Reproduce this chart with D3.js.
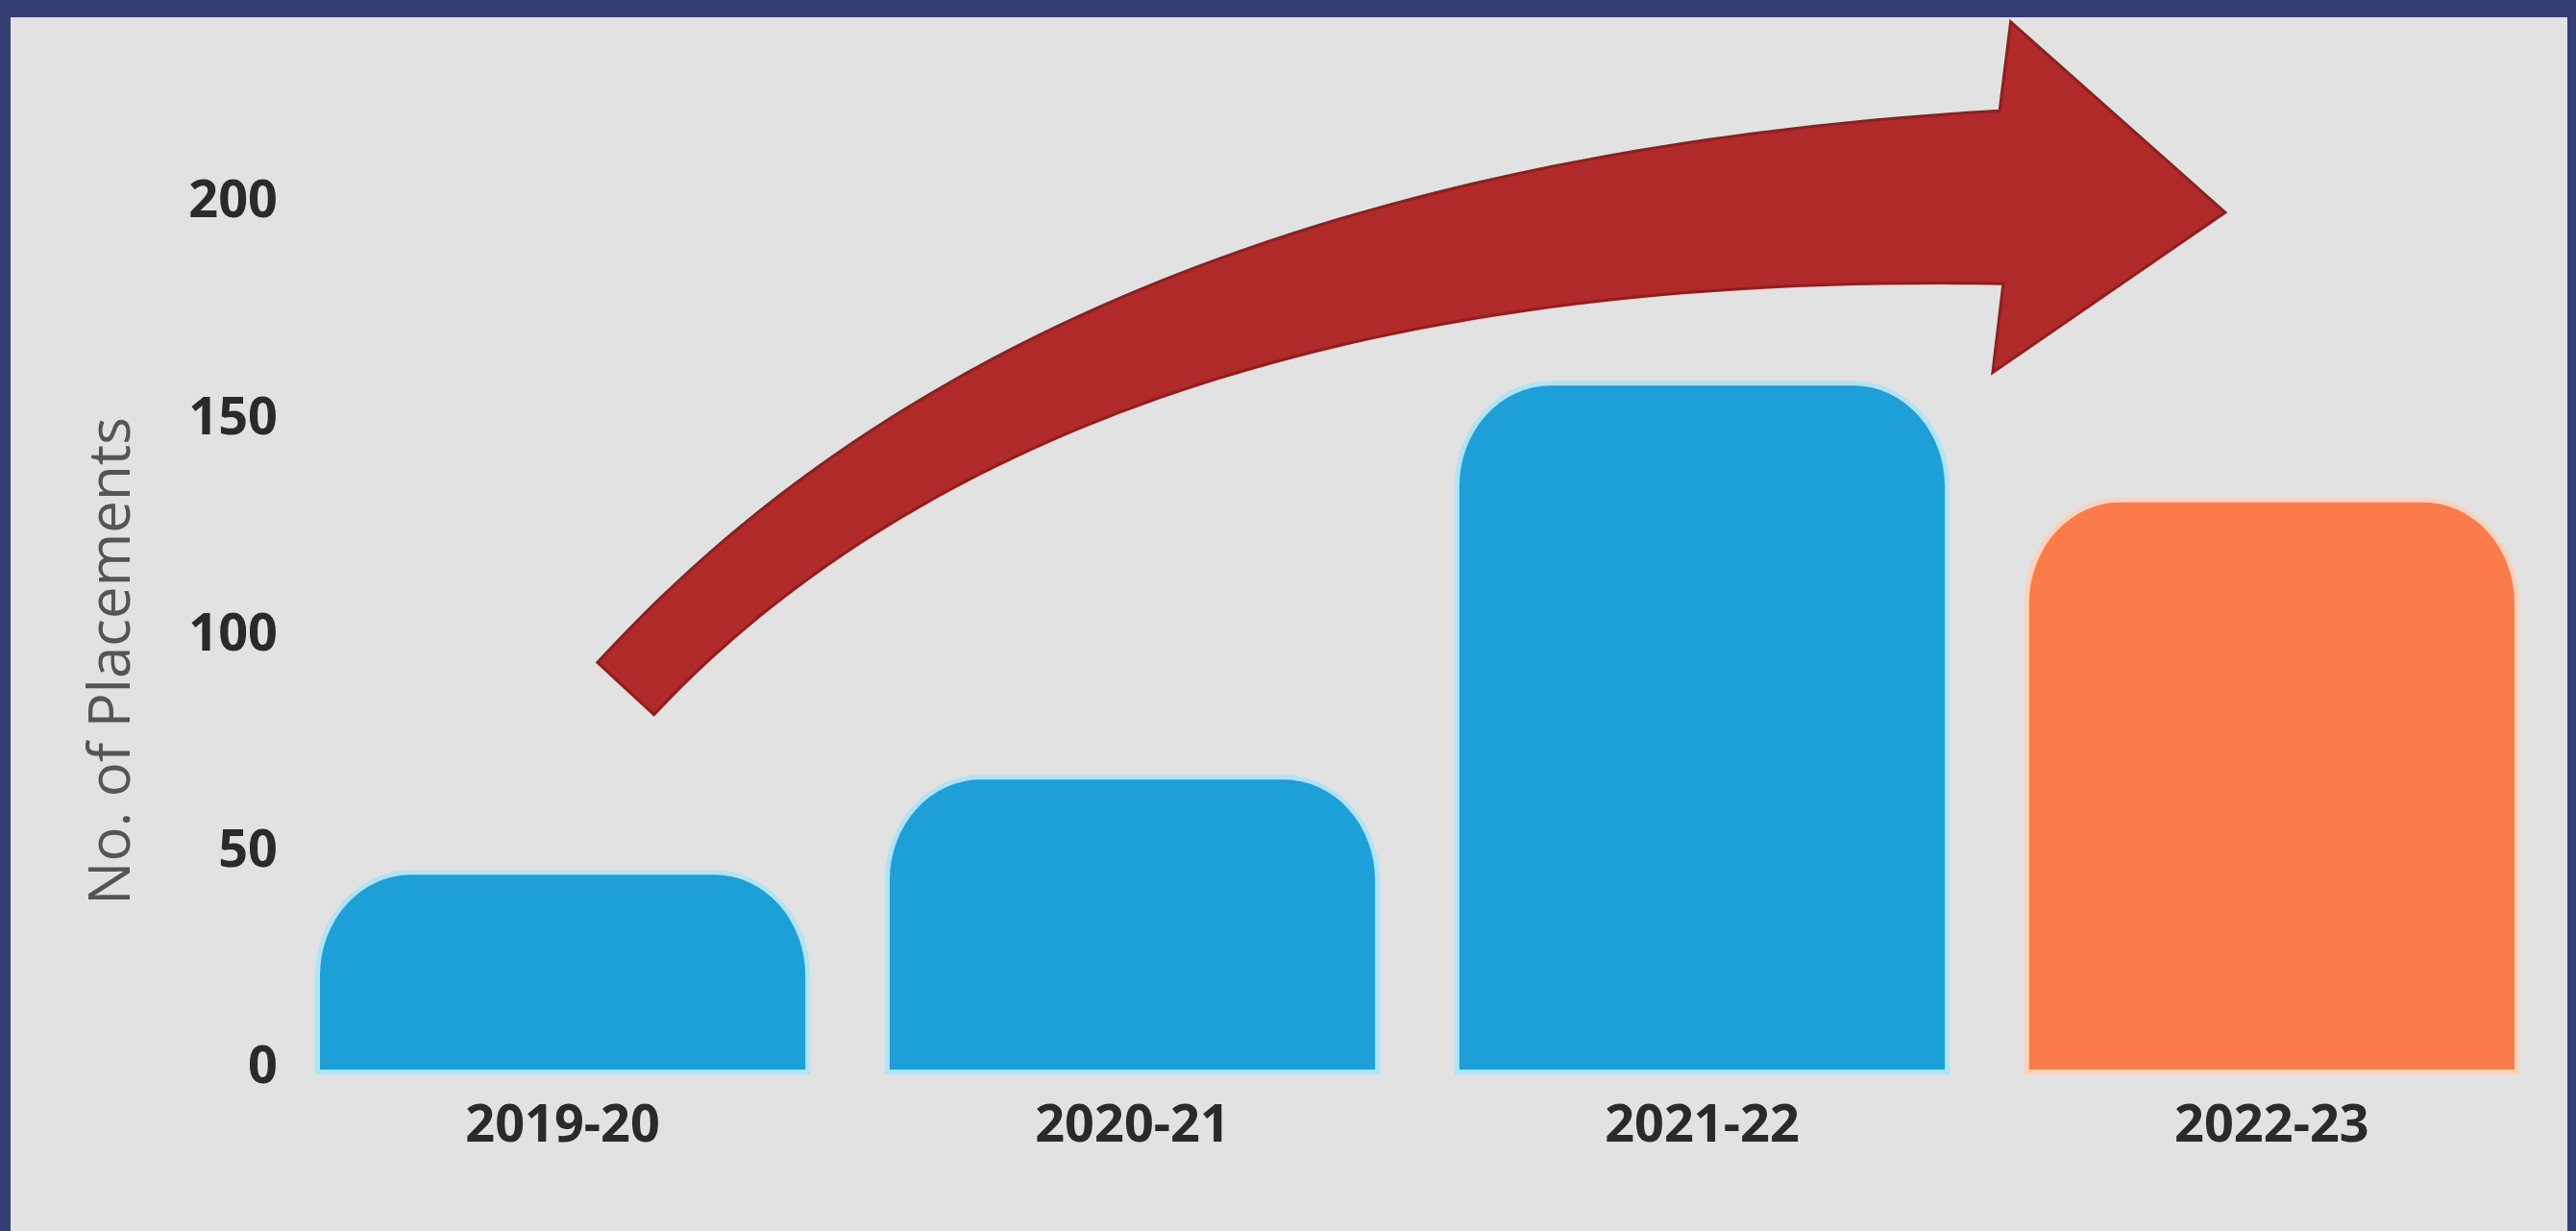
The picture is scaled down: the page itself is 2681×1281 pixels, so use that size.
<!DOCTYPE html>
<html>
<head>
<meta charset="utf-8">
<script src="https://cdn.jsdelivr.net/npm/d3@7"></script>
<style>
	body { margin: 0; background: #353f75; }
	svg { display: block; }
</style>
</head>
<body>
<svg id="chart"></svg>
<script>
// placements per academic year
var categories = ['2019-20', '2020-21', '2021-22', '2022-23'];
var placements = [45, 67, 158, 131];
var yTicks     = [0, 50, 100, 150, 200];
var yTitle     = 'No. of Placements';

var drawChart = function(){

	var svgwidth  = 2681;
	var svgheight = 1281;

	var svg = d3.select('#chart').attr('width', svgwidth).attr('height', svgheight);

	// navy frame + light panel (no frame at the bottom)
	svg.append('rect').attr('width', svgwidth).attr('height', svgheight).attr('fill', '#353f75');
	svg.append('rect')
		.attr('x', 11).attr('y', 18)
		.attr('width', svgwidth - 11 - 9).attr('height', svgheight - 18)
		.attr('fill', '#e2e2e2');

	var x = d3.scaleBand().domain(categories).range([333, 2617]).paddingInner(0.148).paddingOuter(0);
	var y = d3.scaleLinear().domain([0, 200]).range([1113, 212]);

	var bw = x.bandwidth();
	var rx = 95, ry = 105;

	// bar with rounded top corners
	var barPath = function(d, i){
		var x0 = x(categories[i]), x1 = x0 + bw;
		var top = y(d), bot = y(0);
		return 'M' + x0 + ',' + bot +
			'L' + x0 + ',' + (top + ry) +
			'A' + rx + ',' + ry + ' 0 0 1 ' + (x0 + rx) + ',' + top +
			'L' + (x1 - rx) + ',' + top +
			'A' + rx + ',' + ry + ' 0 0 1 ' + x1 + ',' + (top + ry) +
			'L' + x1 + ',' + bot + 'Z';
	};

	var last = categories.length - 1;

	svg.append('g').classed('bars', true)
		.selectAll('path').data(placements).enter().append('path')
		.attr('d', barPath)
		.attr('fill', function(d, i){ return i == last ? '#fb7b4a' : '#1d9fd8'; })
		.attr('stroke', function(d, i){ return i == last ? '#fcd2bd' : '#b0e4f7'; })
		.attr('stroke-width', 10)
		.attr('paint-order', 'stroke');

	// x labels
	svg.append('g').selectAll('text').data(categories).enter().append('text')
		.attr('x', function(d){ return x(d) + bw / 2; })
		.attr('y', 1188)
		.attr('text-anchor', 'middle')
		.attr('font-family', '"Noto Sans", sans-serif')
		.attr('font-weight', 700)
		.attr('font-size', 54)
		.attr('fill', '#2a2a2a')
		.text(function(d){ return d; });

	// y tick labels
	svg.append('g').selectAll('text').data(yTicks).enter().append('text')
		.attr('x', 289)
		.attr('y', function(d){ return y(d) - 5; })
		.attr('dy', '0.36em')
		.attr('text-anchor', 'end')
		.attr('font-family', '"Noto Sans", sans-serif')
		.attr('font-weight', 700)
		.attr('font-size', 54)
		.attr('fill', '#2a2a2a')
		.text(function(d){ return d; });

	// y title
	svg.append('text')
		.attr('transform', 'translate(135,688) rotate(-90)')
		.attr('text-anchor', 'middle')
		.attr('font-family', '"Open Sans", sans-serif')
		.attr('font-size', 60)
		.attr('fill', '#555')
		.text(yTitle);

	// trend arrow, anchored in data space: [category index, fraction of band, value]
	var px = function(a){ return [x(categories[a[0]]) + a[1] * bw, y(a[2])]; };
	var p0 = px([0, 0.63, 88]);
	var p1 = px([1, 0.356, 197]);
	var p2 = px([3, -0.057, 201.5]);
	var headTop = px([3, -0.038, 242]);
	var headBot = px([3, -0.075, 161]);
	var tip     = px([3, 0.404, 198]);

	var upper = [], lower = [];
	for(var k = 0; k <= 60; k++){
		var t = k / 60, u = 1 - t;
		var bx = u*u*p0[0] + 2*t*u*p1[0] + t*t*p2[0];
		var by = u*u*p0[1] + 2*t*u*p1[1] + t*t*p2[1];
		var dx = 2*u*(p1[0]-p0[0]) + 2*t*(p2[0]-p1[0]);
		var dy = 2*u*(p1[1]-p0[1]) + 2*t*(p2[1]-p1[1]);
		var len = Math.sqrt(dx*dx + dy*dy);
		var nx = -dy / len, ny = dx / len;
		var w = (80 + 100 * Math.pow(t, 1.5)) / 2;
		upper.push([bx - nx*w, by - ny*w]);
		lower.push([bx + nx*w, by + ny*w]);
	}
	var arrowPts = upper.concat([headTop, tip, headBot], lower.reverse());

	svg.append('path')
		.attr('d', d3.line()(arrowPts) + 'Z')
		.attr('fill', '#b02a2a')
		.attr('stroke', '#8f1f1f')
		.attr('stroke-width', 3)
		.attr('stroke-linejoin', 'miter');

}

drawChart();
</script>
</body>
</html>
